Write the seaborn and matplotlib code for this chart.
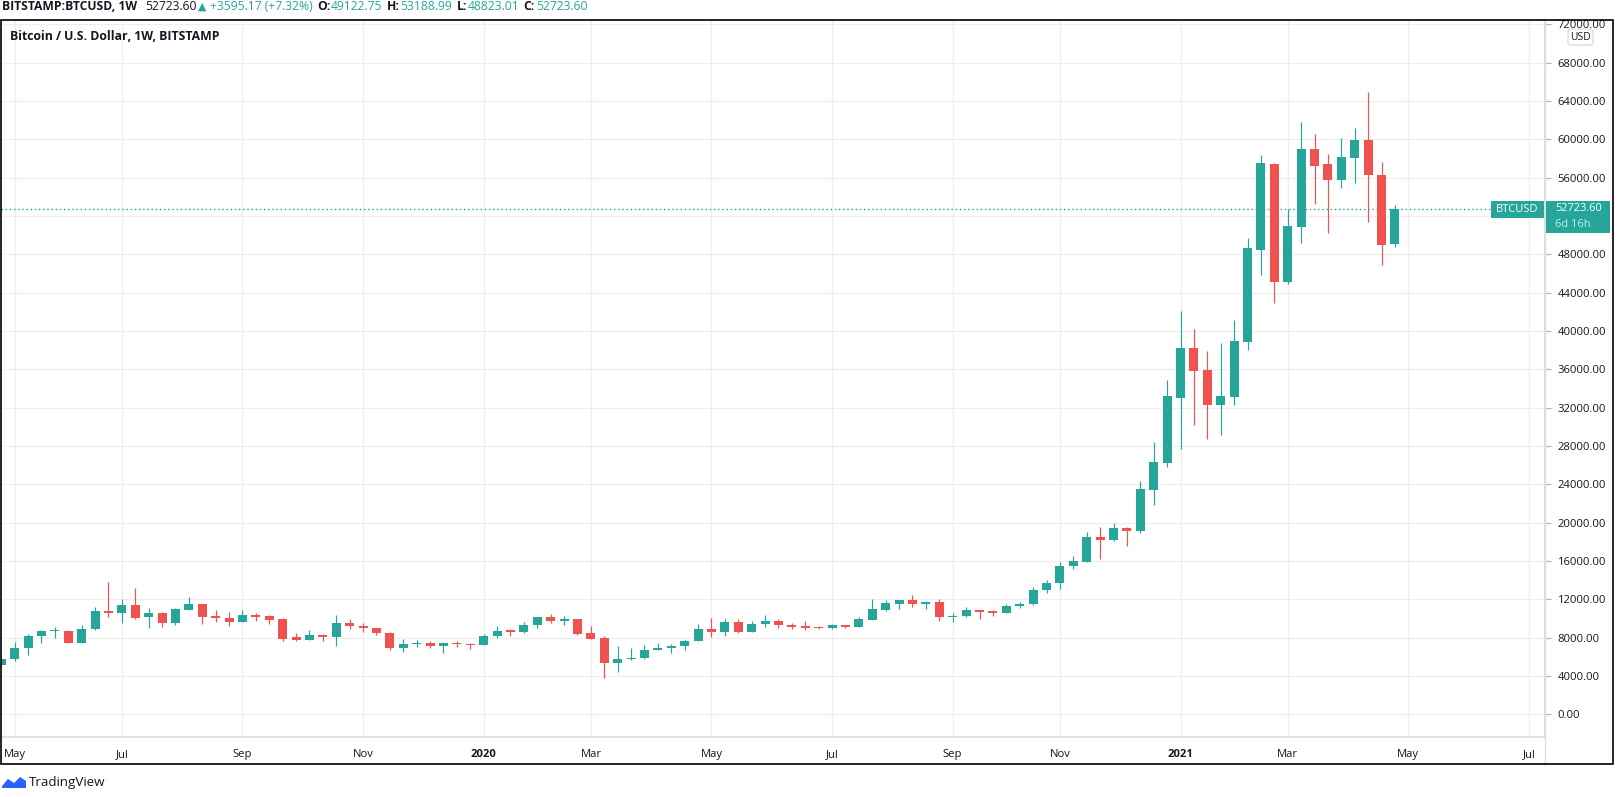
"""BTCUSD weekly candles, TradingView look."""
import numpy as np
import pandas as pd
import matplotlib
matplotlib.use('Agg')
import matplotlib.pyplot as plt
from matplotlib.patches import Rectangle, FancyBboxPatch, Polygon
from matplotlib.transforms import IdentityTransform
import seaborn as sns

# weekly bars, first week starts 2019-04-29
first_week = "2019-04-29"
opens = [5120, 5740, 6980, 8200, 8740, 8750, 7500, 8950, 10820, 10610,
         11440, 10130, 10610, 9500, 10920, 11545, 10300, 10090, 9680, 10400,
         10300, 9990, 8120, 7810, 8330, 8120, 9575, 9260, 9055, 8535,
         6910, 7395, 7500, 7120, 7500, 7395, 7290, 8190, 8780, 8570,
         9300, 10195, 9780, 9990, 8535, 8020, 5355, 5770, 5875, 6705,
         6910, 7120, 7640, 8950, 8640, 9680, 8640, 9470, 9780, 9365,
         9260, 9160, 8985, 9365, 9160, 9885, 10920, 11545, 11960, 11545,
         11750, 10195, 10300, 10920, 10820, 10610, 11335, 11545, 13000, 13720,
         15480, 15900, 18470, 18190, 19410, 19130, 23410, 26230, 33010, 38190,
         35900, 32280, 33110, 38850, 48470, 57470, 45150, 50910, 59040, 57470,
         55730, 58100, 59990, 56320, 49122.75]
highs = [5900, 7600, 8400, 8850, 9100, 8770, 9350, 11230, 13860, 12060,
         13240, 11130, 10710, 11130, 12270, 11560, 10920, 10645, 10920, 10540,
         10400, 10090, 8540, 8850, 8430, 10400, 9990, 9575, 9070, 8560,
         7915, 7810, 7640, 7520, 7710, 7500, 8400, 9190, 8950, 9610,
         10210, 10505, 10300, 10010, 9260, 8190, 7190, 6980, 7290, 7500,
         7330, 7810, 9470, 10090, 9990, 9990, 9780, 10400, 9990, 9575,
         9780, 9230, 9470, 9380, 10195, 12060, 11960, 11980, 12475, 11850,
         12060, 10610, 11230, 10940, 10920, 11545, 11750, 13300, 14030, 15900,
         16525, 18990, 19515, 19930, 19515, 24315, 28380, 34850, 42050, 40170,
         37880, 38710, 41110, 49725, 58420, 57580, 52690, 61870, 60615, 58520,
         60195, 61245, 64905, 57685, 53188.99]
lows = [5070, 5550, 6200, 7450, 7950, 7450, 7450, 8850, 10200, 9500,
        9990, 8990, 9090, 9300, 10900, 9400, 9680, 9260, 9660, 9780,
        9470, 7640, 7640, 7800, 7710, 7190, 8880, 8570, 8260, 6700,
        6500, 7015, 6910, 6400, 7015, 6810, 7270, 7950, 8155, 8465,
        8985, 9500, 9300, 8330, 7900, 3800, 4420, 5670, 5770, 6690,
        6395, 6705, 7620, 8050, 8155, 8535, 8570, 9090, 8985, 8880,
        8780, 8880, 8970, 8985, 9140, 9870, 10820, 11025, 11230, 11025,
        9780, 9680, 10180, 9990, 10300, 10590, 11060, 11440, 12680, 13100,
        15200, 15880, 16245, 18090, 17570, 18960, 21845, 25845, 27690, 30190,
        28730, 29150, 32280, 38020, 45850, 42955, 44945, 49240, 53215, 50285,
        54890, 55415, 51435, 46935, 48823.01]
closes = [5740, 6980, 8200, 8750, 8760, 7500, 8950, 10820, 10610, 11440,
          10060, 10610, 9500, 11025, 11545, 10195, 10020, 9680, 10400, 10195,
          9885, 7915, 7810, 8330, 8120, 9575, 9190, 8985, 8465, 6910,
          7395, 7500, 7120, 7500, 7330, 7290, 8190, 8745, 8570, 9365,
          10195, 9780, 9990, 8430, 7915, 5355, 5840, 5945, 6775, 6980,
          7190, 7710, 8950, 8640, 9680, 8640, 9470, 9780, 9300, 9160,
          9055, 8985, 9365, 9160, 9990, 11025, 11650, 11960, 11545, 11750,
          10195, 10300, 10920, 10710, 10610, 11335, 11545, 13000, 13720, 15480,
          15970, 18470, 18190, 19410, 19130, 23480, 26300, 33180, 38190, 35830,
          32280, 33180, 38920, 48680, 57580, 45150, 50980, 59040, 57260, 55730,
          58210, 59990, 56250, 49030, 52723.60]

last_price = 52723.60
time_left = "6d 16h"
header_change = "+3595.17 (+7.32%)"
price_ticks = list(range(0, 72001, 4000))
hidden_tick = 52000  # sits under the last-price tag
month_labels = ["May", "Jul", "Sep", "Nov", "2020", "Mar", "May", "Jul",
                "Sep", "Nov", "2021", "Mar", "May", "Jul"]

GREEN = "#26a69a"
RED = "#ef5350"
DARK = "#131722"
GRID = "#eeeeee"
AXLINE = "#e0e3eb"

W, H = 1618, 797

sns.set_theme(style="white", rc={"axes.edgecolor": AXLINE})
plt.rcParams['font.family'] = ['Open Sans', 'DejaVu Sans']


def py(y_top):
    """pixel row from top -> figure pixel y."""
    return H - y_top


fig = plt.figure(figsize=(W / 100, H / 100), dpi=100)
fig.patch.set_facecolor("white")
ax_left, ax_right, ax_top, ax_bot = 1, 1545, 20.3, 736.5
ax = fig.add_axes([ax_left / W, py(ax_bot) / H, (ax_right - ax_left) / W,
                   (ax_bot - ax_top) / H])
ax.set_facecolor("white")

o = np.array(opens, float)
hi = np.array(highs, float)
lo = np.array(lows, float)
c = np.array(closes, float)
xs = np.arange(len(o))
up = c >= o
cols = np.where(up, GREEN, RED)

ax.vlines(xs, lo, hi, colors=cols, linewidth=0.85, zorder=3)
body_h = np.maximum(np.abs(c - o), 110)
ax.bar(xs, body_h, bottom=np.minimum(o, c), width=0.67, color=cols,
       linewidth=0, zorder=4)

# month ticks at first bar of each labelled month
dates = pd.date_range(first_week, "2021-07-26", freq="W-MON")
tick_pos = []
for i in range(1, len(dates)):
    if dates[i].month != dates[i - 1].month and dates[i].month % 2 == 1:
        tick_pos.append(i)
tick_pos = tick_pos[:len(month_labels)]

ax.set_xlim(-0.02, 115.2)
ax.set_ylim(-2296, 72430)
ax.set_xticks(tick_pos)
ax.set_xticklabels(month_labels)
for lab in ax.get_xticklabels():
    if lab.get_text().isdigit():
        lab.set_fontweight("bold")
ax.set_yticks(price_ticks)
ax.set_yticklabels(["" if v == hidden_tick else f"{v:.2f}"
                    for v in price_ticks])
ax.yaxis.tick_right()
ax.tick_params(axis="y", direction="out", length=4, width=0.8, color="#b2b5be",
               pad=5, labelsize=8.1, labelcolor=DARK)
ax.tick_params(axis="x", direction="out", length=4, width=0.8, color="#d6d8de",
               pad=5, labelsize=8.1, labelcolor=DARK)
ax.grid(True, color=GRID, linewidth=0.9)
ax.set_axisbelow(True)
for s in ["top", "left"]:
    ax.spines[s].set_visible(False)
ax.spines["bottom"].set_color("#dcdcdc")
ax.spines["right"].set_color("#dcdcdc")

ax.axhline(last_price, xmax=1.0, color=GREEN, linewidth=1.0,
           linestyle=(0, (1, 2)), zorder=2)

ident = IdentityTransform()

# cover tick text above the chart frame
fig.add_artist(Rectangle((1546, py(19.5)), 70, 19.5, transform=ident,
                         facecolor="white", edgecolor="none", zorder=5))

# USD box
fig.add_artist(FancyBboxPatch((1568, py(45)), 25, 16, transform=ident,
                              boxstyle="round,pad=0,rounding_size=3",
                              facecolor="white", edgecolor="#d1d4dc",
                              linewidth=0.8, zorder=6))
fig.text(1580.5, py(37), "USD", transform=ident, ha="center", va="center",
         fontsize=7.5, color=DARK, zorder=7)

# last price labels
fig.add_artist(Rectangle((1491, py(217.5)), 53, 16.5, transform=ident,
                         facecolor=GREEN, edgecolor="none", zorder=6))
fig.text(1517.5, py(209.3), "BTCUSD", transform=ident, ha="center",
         va="center", fontsize=8, color="white", zorder=7)
fig.add_artist(Rectangle((1545.5, py(233)), 64.5, 32, transform=ident,
                         facecolor=GREEN, edgecolor="none", zorder=6))
fig.text(1555, py(208.8), f"{last_price:.2f}", transform=ident, ha="left",
         va="center", fontsize=7.9, color="white", zorder=7)
fig.text(1555, py(224.3), time_left, transform=ident, ha="left",
         va="center", fontsize=7.9, color="#c9ece8", zorder=7)

# outer frame
fig.add_artist(Rectangle((0.8, py(764)), 1612, 764 - 20.3, transform=ident,
                         facecolor="none", edgecolor="black", linewidth=1.2,
                         zorder=8))
fig.add_artist(plt.Line2D([1545, 1545], [py(764), py(20.3)], transform=ident,
                          color="#dcdcdc", linewidth=0.9, zorder=5))

# header line built piece by piece
renderer = fig.canvas.get_renderer()


def put(x, y, s, color=DARK, weight="normal", size=8.7):
    t = fig.text(x, py(y), s, transform=ident, ha="left", va="center",
                 fontsize=size, color=color, fontweight=weight,
                 family=['Open Sans', 'DejaVu Sans'])
    return t.get_window_extent(renderer).x1


x = put(2, 7, "BITSTAMP:BTCUSD, 1W", weight="bold")
x = put(x + 8, 7, f"{last_price:.2f}")
x = put(x + 1, 7, "\u25B2", color=GREEN, size=7.8)
x = put(x + 4, 7, header_change, color=GREEN)
for key, val in [("O:", opens[-1]), ("H:", highs[-1]), ("L:", lows[-1]),
                 ("C:", closes[-1])]:
    x = put(x + 4, 7, key, weight="bold")
    x = put(x + 1, 7, f"{val:.2f}", color=GREEN)

fig.text(10, py(37), "Bitcoin / U.S. Dollar, 1W, BITSTAMP", transform=ident,
         ha="left", va="center", fontsize=8.8, fontweight="bold", color=DARK,
         zorder=7)

# TradingView logo
cloud = Polygon([(2, py(786)), (8, py(779)), (14, py(783)), (20, py(777)),
                 (26, py(781)), (26, py(788)), (2, py(788))],
                closed=True, transform=ident, facecolor="#2962ff",
                edgecolor="none", zorder=6)
fig.add_artist(cloud)
fig.text(29, py(782.5), "TradingView", transform=ident, ha="left",
         va="center", fontsize=9.6, color=DARK, zorder=7)

fig.savefig("out.png", dpi=100)
